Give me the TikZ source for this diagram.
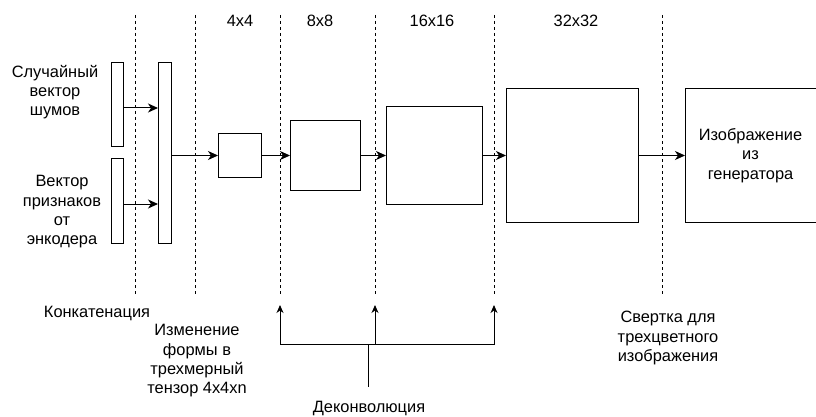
\documentclass[tikz,border=0pt]{standalone}
\usepackage{fontspec}
\setmainfont{Liberation Sans}
\usetikzlibrary{arrows.meta}
\begin{document}
\begin{tikzpicture}[x=1pt,y=-1pt,line width=1pt,
  box/.style={draw=black,fill=white,inner sep=0pt,outer sep=0pt},
  lbl/.style={align=center,inner sep=0pt,font=\fontsize{16.4}{19.3}\selectfont},
  sep/.style={draw=black,line width=0.8pt,dash pattern=on 3pt off 3pt},
  arr/.style={draw=black,-{Stealth[length=10pt,width=9pt,inset=3pt]}},
  arrs/.style={draw=black,-{Stealth[length=8pt,width=7pt,inset=2.5pt]}}]
\useasboundingbox (0,0) rectangle (816,417);
% separators
\foreach \x in {135,195,280,375,494,662}
  \draw[sep] (\x,15) -- (\x,295);
% size labels
\node[lbl] (s4) at (240,21) {4x4};
\node[lbl] (s8) at (320,21) {8x8};
\node[lbl] (s16) at (432,21) {16x16};
\node[lbl] (s32) at (576,21) {32x32};
% input vectors
\node[box,minimum width=12pt,minimum height=83pt] (r1) at (117,104.5) {};
\node[box,minimum width=12pt,minimum height=85pt] (r2) at (117,200.5) {};
\node[box,minimum width=13pt,minimum height=180pt] (cc) at (164.5,153) {};
\node[lbl] (t1) at (55,92) {Случайный\\вектор\\шумов};
\node[lbl] (t2) at (62,212) {Вектор\\признаков\\от\\энкодера};
\draw[arr] ([yshift=-3.5pt]r1.east) -- ([yshift=-3.5pt]r1.east -| cc.west);
\draw[arr] ([yshift=-3.5pt]r2.east) -- ([yshift=-3.5pt]r2.east -| cc.west);
% feature maps
\node[box,minimum width=43pt,minimum height=43pt] (b4) at (239.5,155.5) {};
\node[box,minimum width=70pt,minimum height=69pt] (b8) at (325,155.5) {};
\node[box,minimum width=96pt,minimum height=97pt] (b16) at (434,155.5) {};
\node[box,minimum width=132pt,minimum height=133pt] (b32) at (572,155.5) {};
\node[box,minimum width=131pt,minimum height=133pt,lbl] (out) at (750.5,155.5) {Изображение\\из\\генератора};
\draw[arr] (cc.east |- b4.west) -- (b4.west);
\draw[arr] (b4.east) -- (b8.west);
\draw[arr] (b8.east) -- (b16.west);
\draw[arr] (b16.east) -- (b32.west);
\draw[arr] (b32.east) -- (out.west);
% bottom labels
\node[lbl] (l1) at (97,313) {Конкатенация};
\node[lbl] (l2) at (197,361) {Изменение\\формы в\\трехмерный\\тензор 4x4xn};
\node[lbl] (l3) at (668,338) {Свертка для\\трехцветного\\изображения};
\node[lbl] (l4) at (369,408) {Деконволюция};
% deconvolution pointers
\coordinate (dj) at (368,344);
\coordinate (dl) at (368,387);
\coordinate (a1) at (280,305);
\coordinate (a2) at (375,305);
\coordinate (a3) at (494,305);
\draw[arrs] (dj) -| (a1);
\draw[arrs] (dj) -| (a2);
\draw[arrs] (dj) -| (a3);
\draw (dj) -- (dl);
\end{tikzpicture}
\end{document}
